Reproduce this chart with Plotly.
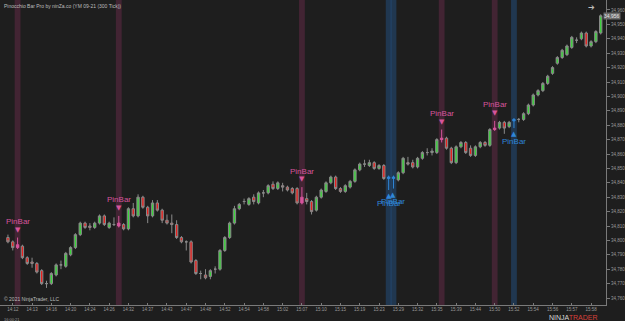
import plotly.graph_objects as go

# ---- data ----
opens = [34802, 34799, 34797, 34796, 34788, 34785, 34784, 34779, 34770, 34770,
         34776, 34783, 34782, 34790, 34795, 34804, 34812, 34810, 34809, 34812,
         34817, 34809, 34811, 34812, 34811, 34808, 34822, 34817, 34830, 34823,
         34817, 34826, 34821, 34814, 34812, 34811, 34802, 34799, 34799, 34786,
         34777, 34776, 34775, 34780, 34780, 34793, 34802, 34812, 34822, 34827,
         34825, 34830, 34826, 34833, 34833, 34839, 34836, 34838, 34837, 34836,
         34836, 34830, 34829, 34827, 34821, 34830, 34834, 34840, 34844, 34836,
         34834, 34837, 34841, 34849, 34853, 34852, 34854, 34850, 34852, 34843,
         34843, 34842, 34847, 34854, 34854, 34851, 34857, 34861, 34861, 34861,
         34871, 34871, 34864, 34854, 34865, 34868, 34864, 34859, 34865, 34868,
         34866, 34878, 34878, 34882, 34879, 34883, 34884, 34884, 34888, 34894,
         34901, 34904, 34909, 34916, 34923, 34927, 34929, 34934, 34939, 34940,
         34944, 34935, 34938, 34944]
highs = [34804, 34800, 34802, 34797, 34789, 34788, 34785, 34780, 34772, 34778,
         34784, 34786, 34792, 34796, 34805, 34813, 34813, 34812, 34813, 34818,
         34818, 34813, 34816, 34817, 34812, 34823, 34826, 34832, 34831, 34824,
         34828, 34828, 34822, 34818, 34818, 34814, 34803, 34800, 34800, 34787,
         34779, 34780, 34780, 34782, 34794, 34803, 34813, 34824, 34826, 34829,
         34830, 34832, 34834, 34835, 34839, 34841, 34841, 34840, 34838, 34837,
         34837, 34837, 34833, 34828, 34831, 34836, 34841, 34845, 34845, 34837,
         34839, 34842, 34850, 34854, 34856, 34856, 34855, 34853, 34853, 34845,
         34845, 34848, 34858, 34858, 34856, 34858, 34862, 34864, 34864, 34871,
         34877, 34872, 34865, 34866, 34869, 34869, 34866, 34866, 34869, 34869,
         34878, 34883, 34883, 34883, 34883, 34885, 34885, 34889, 34895, 34902,
         34905, 34910, 34915, 34921, 34928, 34933, 34936, 34942, 34941, 34945,
         34945, 34939, 34946, 34957]
lows = [34798, 34793, 34794, 34787, 34783, 34781, 34777, 34769, 34767, 34769,
        34775, 34780, 34781, 34789, 34794, 34803, 34808, 34807, 34808, 34811,
        34810, 34808, 34810, 34809, 34807, 34807, 34816, 34816, 34822, 34812,
        34816, 34820, 34812, 34811, 34805, 34801, 34798, 34793, 34784, 34776,
        34773, 34773, 34773, 34777, 34779, 34792, 34801, 34811, 34821, 34825,
        34824, 34825, 34825, 34830, 34832, 34835, 34835, 34834, 34834, 34832,
        34825, 34825, 34825, 34818, 34820, 34829, 34833, 34839, 34835, 34833,
        34833, 34836, 34840, 34848, 34851, 34851, 34849, 34849, 34842, 34835,
        34836, 34841, 34846, 34852, 34850, 34850, 34856, 34859, 34859, 34860,
        34868, 34863, 34853, 34853, 34864, 34860, 34858, 34858, 34864, 34865,
        34865, 34876, 34877, 34874, 34878, 34878, 34882, 34883, 34887, 34893,
        34900, 34903, 34908, 34915, 34922, 34926, 34928, 34933, 34937, 34939,
        34934, 34934, 34937, 34943]
closes = [34799, 34795, 34795, 34788, 34784, 34784, 34778, 34770, 34770, 34777,
          34783, 34783, 34791, 34795, 34804, 34812, 34809, 34809, 34812, 34817,
          34811, 34812, 34811, 34810, 34808, 34822, 34817, 34830, 34823, 34817,
          34826, 34821, 34814, 34812, 34811, 34802, 34799, 34799, 34785, 34777,
          34777, 34774, 34779, 34780, 34793, 34802, 34812, 34822, 34825, 34827,
          34829, 34827, 34833, 34833, 34838, 34836, 34840, 34837, 34835, 34833,
          34826, 34826, 34827, 34820, 34830, 34835, 34840, 34844, 34836, 34834,
          34838, 34841, 34849, 34853, 34853, 34854, 34850, 34852, 34843, 34844,
          34844, 34847, 34857, 34853, 34851, 34857, 34861, 34861, 34862, 34870,
          34870, 34864, 34854, 34865, 34868, 34861, 34859, 34865, 34868, 34866,
          34877, 34877, 34882, 34878, 34882, 34884, 34884, 34888, 34894, 34901,
          34904, 34909, 34914, 34920, 34927, 34932, 34935, 34941, 34939, 34944,
          34935, 34938, 34945, 34956]

bear_pins = [2, 23, 61, 90, 101]
bull_pins = [79, 80, 105]

time_labels = ["14:12", "14:13", "14:16", "14:20", "14:24", "14:26", "14:32", "14:37",
               "14:43", "14:47", "14:48", "14:52", "14:54", "14:58", "15:02", "15:07",
               "15:10", "15:15", "15:19", "15:23", "15:29", "15:32", "15:35", "15:39",
               "15:44", "15:50", "15:52", "15:54", "15:56", "15:57", "15:58"]
price_ticks = list(range(34760, 34961, 10))

title_text = "Pinocchio Bar Pro by ninZa.co (YM 09-21 (300 Tick))"

# ---- figure ----
n = len(opens)
idx = list(range(n))
pins = set(bear_pins) | set(bull_pins)
normal = [i for i in idx if i not in pins]

BG = "#1e1e1e"
UP = "#3ad43a"
DN = "#e8201e"
WICK = "#8a8a8a"
PINK = "#d6559c"
BLUE = "#2f86d8"
AXIS = "#9a9a9a"

fig = go.Figure()

# shaded pin-bar columns
shapes = []
for i in bear_pins:
    shapes.append(dict(type="rect", xref="x", yref="paper", x0=i - 0.6, x1=i + 0.6,
                       y0=0, y1=1, fillcolor="rgba(140,50,95,0.33)", line_width=0, layer="below"))
for i in bull_pins:
    shapes.append(dict(type="rect", xref="x", yref="paper", x0=i - 0.6, x1=i + 0.6,
                       y0=0, y1=1, fillcolor="rgba(35,90,150,0.42)", line_width=0, layer="below"))


def sub(lst, ids):
    return [lst[i] for i in ids]


fig.add_trace(go.Candlestick(
    x=normal, open=sub(opens, normal), high=sub(highs, normal),
    low=sub(lows, normal), close=sub(closes, normal),
    increasing=dict(line=dict(color=WICK, width=1), fillcolor=UP),
    decreasing=dict(line=dict(color=WICK, width=1), fillcolor=DN),
    whiskerwidth=0, hoverinfo="skip"))

fig.add_trace(go.Candlestick(
    x=bear_pins, open=sub(opens, bear_pins), high=sub(highs, bear_pins),
    low=sub(lows, bear_pins), close=sub(closes, bear_pins),
    increasing=dict(line=dict(color=PINK, width=1), fillcolor=PINK),
    decreasing=dict(line=dict(color=PINK, width=1), fillcolor=PINK),
    whiskerwidth=0, hoverinfo="skip"))

fig.add_trace(go.Candlestick(
    x=bull_pins, open=sub(opens, bull_pins), high=sub(highs, bull_pins),
    low=sub(lows, bull_pins), close=sub(closes, bull_pins),
    increasing=dict(line=dict(color=BLUE, width=1), fillcolor=BLUE),
    decreasing=dict(line=dict(color=BLUE, width=1), fillcolor=BLUE),
    whiskerwidth=0, hoverinfo="skip"))

annotations = []
for i in bear_pins:
    annotations.append(dict(x=i, y=highs[i], xref="x", yref="y", text="▼", showarrow=False,
                            yshift=8, font=dict(size=7, color=PINK, family="DejaVu Sans")))
    annotations.append(dict(x=i, y=highs[i], xref="x", yref="y", text="PinBar", showarrow=False,
                            yshift=16, font=dict(size=8, color=PINK, family="Liberation Sans")))
for i in bull_pins:
    annotations.append(dict(x=i, y=lows[i], xref="x", yref="y", text="▲", showarrow=False,
                            yshift=-6, font=dict(size=7, color=BLUE, family="DejaVu Sans")))
    annotations.append(dict(x=i, y=lows[i], xref="x", yref="y", text="PinBar", showarrow=False,
                            yshift=-13, font=dict(size=8, color=BLUE, family="Liberation Sans")))

# title and footer texts
annotations.append(dict(x=0.003, y=1, xref="paper", yref="paper", xanchor="left", yanchor="top",
                        text=title_text, showarrow=False, yshift=-1,
                        font=dict(size=5, color="#bdbdbd", family="Liberation Sans")))
annotations.append(dict(x=0.003, y=0, xref="paper", yref="paper", xanchor="left", yanchor="bottom",
                        text="© 2021 NinjaTrader, LLC", showarrow=False, yshift=1,
                        font=dict(size=5, color="#bdbdbd", family="Liberation Sans")))
annotations.append(dict(x=0.003, y=0, xref="paper", yref="paper", xanchor="left", yanchor="top",
                        text="16:00:21", showarrow=False, yshift=-10,
                        font=dict(size=4, color="#9a9a9a", family="Liberation Sans")))
annotations.append(dict(x=0.99, y=0, xref="paper", yref="paper", xanchor="right", yanchor="top",
                        text="<span style='color:#d9d9d9'>NINJA</span><span style='color:#d8403a'>TRADER</span>",
                        showarrow=False, yshift=-7,
                        font=dict(size=7, family="Liberation Sans")))
annotations.append(dict(x=0.985, y=1, xref="paper", yref="paper", xanchor="right", yanchor="top",
                        text="➔", showarrow=False, yshift=-1,
                        font=dict(size=8, color="#bdbdbd", family="DejaVu Sans")))
# last price marker
annotations.append(dict(x=1, y=closes[-1], xref="paper", yref="y", xanchor="left",
                        text=f"{closes[-1]:,}", showarrow=False, xshift=-3,
                        bgcolor="#6a6a6a", borderpad=0,
                        font=dict(size=5, color="#e6e6e6", family="Liberation Sans")))

fig.update_layout(
    width=625, height=321,
    margin=dict(l=0, r=15, t=0, b=16),
    paper_bgcolor=BG, plot_bgcolor=BG,
    showlegend=False,
    shapes=shapes,
    annotations=annotations,
    xaxis=dict(
        range=[-1.65, 124.1], rangeslider=dict(visible=False),
        tickvals=[1 + 4 * k for k in range(len(time_labels))], ticktext=time_labels,
        tickfont=dict(size=4.5, color=AXIS, family="Liberation Sans"),
        showgrid=False, zeroline=False, showline=True, linecolor="#7a7a7a", linewidth=1,
        ticks="inside", ticklen=2, tickcolor="#7a7a7a",
    ),
    yaxis=dict(
        side="right", range=[34755.14, 34966.94],
        tickvals=price_ticks, ticktext=[f"{v:,}" for v in price_ticks],
        tickfont=dict(size=4.5, color=AXIS, family="Liberation Sans"),
        showgrid=False, zeroline=False, showline=True, linecolor="#7a7a7a", linewidth=1,
        ticks="outside", ticklen=3, tickcolor="#7a7a7a",
    ),
)

fig.write_html("out.html")
